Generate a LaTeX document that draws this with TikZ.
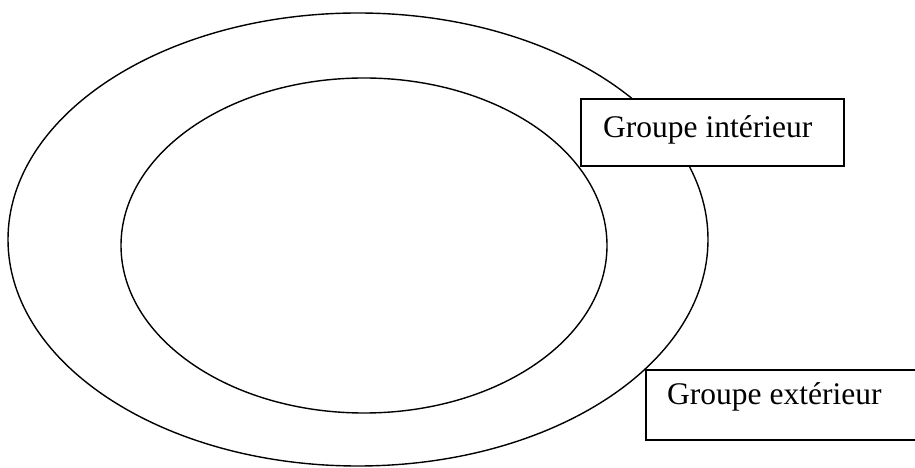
\documentclass[tikz,border=0pt]{standalone}
\usepackage{fontspec}
\setmainfont{Liberation Serif}
\begin{document}
\begin{tikzpicture}[x=1pt,y=1pt,
  ring/.style={draw=black,line width=1.4pt},
  labelbox/.style={draw=black,fill=white,line width=1.5pt,inner sep=0pt},
  labeltext/.style={anchor=base west,inner sep=0pt,font=\fontsize{31.5}{36}\selectfont}]
\useasboundingbox (0,0) rectangle (915,468);
\draw[ring] (358,228.5) ellipse [x radius=350, y radius=226.5];
\draw[ring] (364,222.5) ellipse [x radius=243, y radius=167.5];
\node[labelbox,minimum width=263pt,minimum height=67pt] (b1) at (712.5,335.5) {};
\node[labeltext] (t1) at (603,330) {Groupe intérieur};
\begin{scope}
\clip (0,0) rectangle (915,468);
\node[labelbox,minimum width=276pt,minimum height=70pt] (b2) at (784,63) {};
\end{scope}
\node[labeltext] (t2) at (667,63) {Groupe extérieur};
\end{tikzpicture}
\end{document}
